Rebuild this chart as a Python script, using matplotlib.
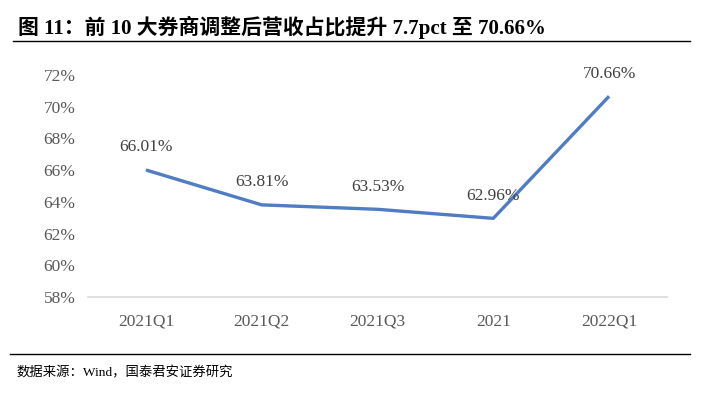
import matplotlib
matplotlib.use("Agg")
import matplotlib.pyplot as plt
from matplotlib.lines import Line2D

categories = ["2021Q1", "2021Q2", "2021Q3", "2021", "2022Q1"]
values = [66.01, 63.81, 63.53, 62.96, 70.66]
yticks = [58, 60, 62, 64, 66, 68, 70, 72]
title = "图 11：前 10 大券商调整后营收占比提升 7.7pct 至 70.66%"
source = "数据来源：Wind，国泰君安证券研究"

fam = ["Liberation Serif", "Noto Sans CJK SC"]
plt.rcParams["font.family"] = fam

W, H = 703, 397
fig = plt.figure(figsize=(W / 100, H / 100), dpi=100)
ax = fig.add_axes([88 / W, 1 - 297 / H, (667 - 88) / W, (297 - 75) / H])

x = list(range(len(categories)))
ax.plot(x, values, color="#4F7CC2", lw=2.4, solid_capstyle="butt")
for xi, v in zip(x, values):
    ax.annotate(f"{v:.2f}%", (xi, v), xytext=(0, 10.5), textcoords="offset points",
                ha="center", va="bottom", fontsize=12.5, color="#404040")

ax.set_xlim(-0.5, len(categories) - 0.5)
ax.set_ylim(58, 72)
ax.set_yticks(yticks)
ax.set_yticklabels([f"{t}%" for t in yticks])
ax.set_xticks(x)
ax.set_xticklabels(categories)
ax.tick_params(axis="both", length=0, labelsize=12.5, labelcolor="#595959")
ax.tick_params(axis="y", pad=9)
ax.tick_params(axis="x", pad=12)
for s in ["top", "right", "left"]:
    ax.spines[s].set_visible(False)
ax.spines["bottom"].set_color("#D9D9D9")
ax.spines["bottom"].set_linewidth(1.2)

fig.text(18 / W, 1 - 27 / H, title, fontsize=15, fontweight="bold", va="center", ha="left",
         color="black")
fig.add_artist(Line2D([13 / W, 690 / W], [1 - 41 / H, 1 - 41 / H], color="black", lw=1))
fig.add_artist(Line2D([10 / W, 690 / W], [1 - 354 / H, 1 - 354 / H], color="black", lw=1))
fig.text(17 / W, 1 - 373 / H, source, fontsize=9.6, va="center", ha="left", color="black")

fig.savefig("out.png", dpi=100)
